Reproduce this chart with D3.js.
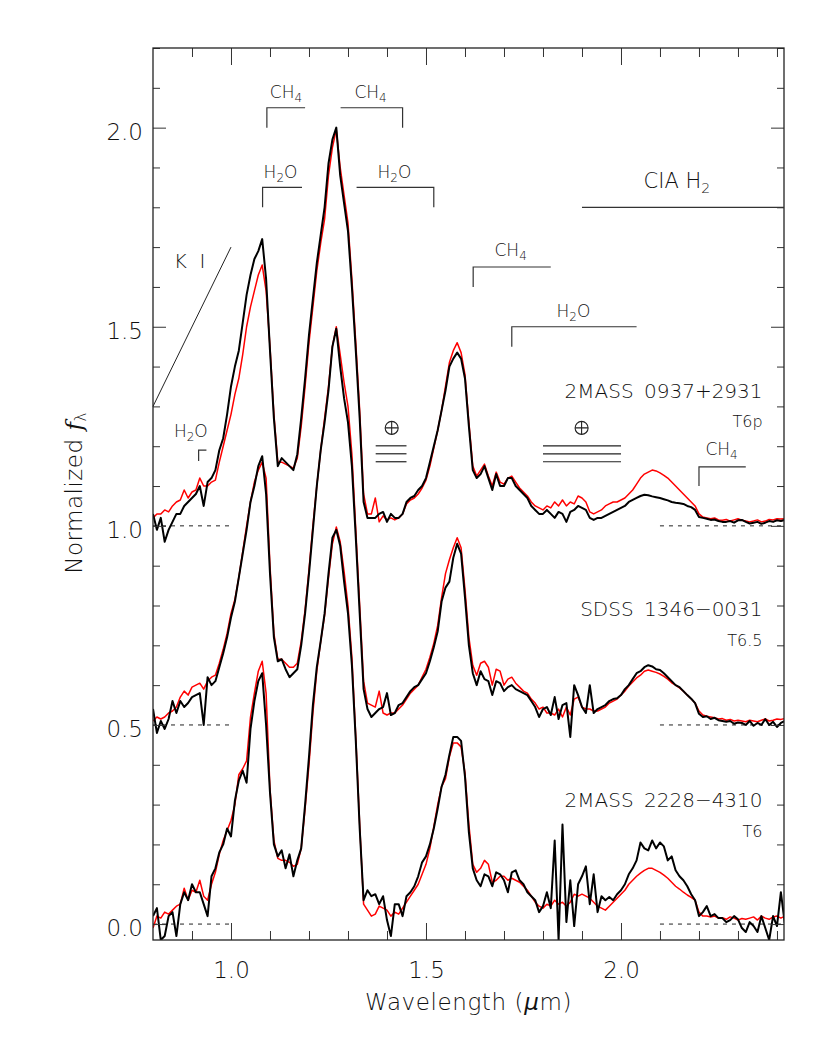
<!DOCTYPE html>
<html>
<head>
<meta charset="utf-8">
<script src="https://cdn.jsdelivr.net/npm/d3@7"></script>
<style>
  body { margin: 0; background: #fff; }
  text { font-family: "DejaVu Sans", sans-serif; font-weight: 200; fill: #111; }
</style>
</head>
<body>
<div class="chart"></div>
<script>
// Wavelength grid (microns), 0.01 step
var wavelength = d3.range(163).map(i => +(0.80 + i * 0.01).toFixed(2));

// 2MASS 0937+2931 (offset +1.0)
var topBlack = [
  1.03, 0.99, 1.02, 0.96, 0.99, 1.01, 1.03, 1.03, 1.05, 1.06,
  1.07, 1.08, 1.10, 1.05, 1.11, 1.12, 1.14, 1.19, 1.22, 1.28,
  1.35, 1.40, 1.44, 1.51, 1.58, 1.63, 1.67, 1.69, 1.72, 1.62,
  1.44, 1.27, 1.15, 1.17, 1.16, 1.15, 1.14, 1.18, 1.27, 1.37,
  1.48, 1.57, 1.66, 1.73, 1.80, 1.91, 1.97, 2.00, 1.88, 1.81,
  1.74, 1.60, 1.44, 1.27, 1.06, 1.02, 1.02, 1.02, 1.03, 1.035,
  1.01, 1.03, 1.02, 1.02, 1.03, 1.06, 1.07, 1.075, 1.09, 1.10,
  1.12, 1.16, 1.20, 1.24, 1.29, 1.34, 1.40, 1.42, 1.435, 1.42,
  1.37, 1.25, 1.14, 1.12, 1.13, 1.15, 1.12, 1.09, 1.13, 1.10,
  1.10, 1.12, 1.12, 1.10, 1.09, 1.08, 1.07, 1.05, 1.04, 1.03,
  1.03, 1.04, 1.03, 1.02, 1.035, 1.03, 1.01, 1.035, 1.04, 1.05,
  1.045, 1.04, 1.02, 1.015, 1.02, 1.02, 1.025, 1.03, 1.035, 1.04,
  1.045, 1.05, 1.06, 1.065, 1.07, 1.075, 1.078, 1.077, 1.074, 1.072,
  1.07, 1.067, 1.064, 1.06, 1.058, 1.057, 1.055, 1.05, 1.047, 1.04,
  1.022, 1.02, 1.018, 1.015, 1.016, 1.012, 1.01, 1.01, 1.012, 1.008,
  1.014, 1.015, 1.01, 1.006, 1.008, 1.01, 1.005, 1.008, 1.012, 1.01,
  1.014, 1.012, 1.015
];
var topRed = [
  1.02, 1.03, 1.03, 1.04, 1.035, 1.05, 1.06, 1.065, 1.09, 1.07,
  1.085, 1.09, 1.12, 1.10, 1.10, 1.11, 1.115, 1.16, 1.20, 1.24,
  1.28, 1.33, 1.37, 1.43, 1.50, 1.55, 1.59, 1.63, 1.655, 1.59,
  1.45, 1.28, 1.16, 1.16, 1.155, 1.15, 1.145, 1.17, 1.25, 1.35,
  1.46, 1.55, 1.64, 1.71, 1.77, 1.88, 1.95, 1.995, 1.90, 1.83,
  1.76, 1.62, 1.46, 1.29, 1.08, 1.03, 1.03, 1.07, 1.01, 1.025,
  1.015, 1.02, 1.015, 1.02, 1.03, 1.055, 1.065, 1.07, 1.08, 1.095,
  1.115, 1.15, 1.195, 1.24, 1.29, 1.35, 1.41, 1.44, 1.46, 1.435,
  1.38, 1.26, 1.15, 1.125, 1.14, 1.155, 1.125, 1.10, 1.135, 1.11,
  1.105, 1.12, 1.125, 1.11, 1.095, 1.085, 1.075, 1.06, 1.05, 1.045,
  1.04, 1.05, 1.045, 1.06, 1.05, 1.065, 1.05, 1.06, 1.055, 1.075,
  1.07, 1.06, 1.035, 1.03, 1.035, 1.04, 1.05, 1.055, 1.06, 1.06,
  1.065, 1.07, 1.08, 1.09, 1.105, 1.12, 1.13, 1.135, 1.14, 1.138,
  1.133, 1.127, 1.12, 1.11, 1.10, 1.09, 1.08, 1.07, 1.06, 1.05,
  1.03, 1.022, 1.02, 1.018, 1.02, 1.015, 1.014, 1.016, 1.012, 1.015,
  1.018, 1.014, 1.012, 1.01, 1.012, 1.015, 1.01, 1.012, 1.016, 1.015,
  1.018, 1.017, 1.018
];

// SDSS 1346-0031 (offset +0.5)
var midBlack = [
  0.54, 0.48, 0.51, 0.49, 0.515, 0.56, 0.53, 0.56, 0.545, 0.555,
  0.57, 0.575, 0.58, 0.50, 0.62, 0.60, 0.61, 0.645, 0.68, 0.72,
  0.77, 0.81, 0.87, 0.93, 0.99, 1.06, 1.10, 1.15, 1.175, 1.08,
  0.88, 0.72, 0.66, 0.665, 0.64, 0.62, 0.63, 0.64, 0.70, 0.78,
  0.88, 0.99, 1.10, 1.19, 1.26, 1.34, 1.45, 1.495, 1.40, 1.32,
  1.26, 1.15, 0.97, 0.78, 0.59, 0.54, 0.52, 0.53, 0.54, 0.545,
  0.58, 0.525, 0.53, 0.55, 0.555, 0.57, 0.585, 0.595, 0.60, 0.615,
  0.63, 0.66, 0.695, 0.735, 0.81, 0.845, 0.86, 0.92, 0.955, 0.93,
  0.82, 0.70, 0.63, 0.60, 0.635, 0.615, 0.61, 0.575, 0.61, 0.605,
  0.585, 0.595, 0.60, 0.59, 0.585, 0.58, 0.575, 0.56, 0.545, 0.52,
  0.54, 0.545, 0.525, 0.57, 0.515, 0.55, 0.555, 0.47, 0.60, 0.575,
  0.545, 0.53, 0.60, 0.53, 0.54, 0.545, 0.55, 0.56, 0.565, 0.567,
  0.575, 0.59, 0.60, 0.615, 0.63, 0.635, 0.645, 0.65, 0.647, 0.64,
  0.638, 0.63, 0.62, 0.61, 0.60, 0.595, 0.585, 0.575, 0.566, 0.555,
  0.528, 0.52, 0.522, 0.515, 0.518, 0.512, 0.51, 0.508, 0.51, 0.503,
  0.506, 0.505, 0.50, 0.51, 0.498, 0.505, 0.50, 0.515, 0.50, 0.508,
  0.495, 0.505, 0.51
];
var midRed = [
  0.51, 0.52, 0.515, 0.52, 0.53, 0.535, 0.545, 0.57, 0.585, 0.575,
  0.595, 0.60, 0.605, 0.59, 0.61, 0.62, 0.625, 0.655, 0.69, 0.73,
  0.78, 0.815, 0.87, 0.935, 1.00, 1.06, 1.11, 1.14, 1.16, 1.12,
  0.90, 0.73, 0.665, 0.665, 0.655, 0.645, 0.645, 0.655, 0.71, 0.79,
  0.89, 1.00, 1.10, 1.19, 1.27, 1.35, 1.45, 1.50, 1.43, 1.36,
  1.30, 1.18, 0.99, 0.80, 0.61, 0.555, 0.55, 0.545, 0.585, 0.53,
  0.525, 0.53, 0.53, 0.54, 0.55, 0.565, 0.58, 0.59, 0.60, 0.62,
  0.64, 0.67, 0.705, 0.75, 0.82, 0.88, 0.915, 0.945, 0.97, 0.945,
  0.84, 0.72, 0.65, 0.625, 0.655, 0.66, 0.645, 0.60, 0.64, 0.635,
  0.60, 0.615, 0.62, 0.605, 0.595, 0.585, 0.58, 0.565, 0.555, 0.54,
  0.545, 0.53, 0.53, 0.525, 0.54, 0.52, 0.545, 0.525, 0.565, 0.57,
  0.545, 0.54, 0.54, 0.535, 0.535, 0.54, 0.545, 0.555, 0.56, 0.565,
  0.575, 0.585, 0.598, 0.608, 0.618, 0.625, 0.635, 0.638, 0.635, 0.632,
  0.628, 0.622, 0.615, 0.606, 0.60, 0.593, 0.585, 0.575, 0.566, 0.555,
  0.535, 0.525, 0.522, 0.52, 0.518, 0.515, 0.516, 0.512, 0.514, 0.51,
  0.512, 0.51, 0.508, 0.512, 0.51, 0.508, 0.512, 0.515, 0.51, 0.512,
  0.515, 0.514, 0.516
];

// 2MASS 2228-4310 (no offset)
var botBlack = [
  0.02, 0.04, -0.04, -0.03, 0.02, 0.03, -0.03, 0.05, 0.08, 0.06,
  0.10, 0.08, 0.08, 0.05, 0.02, 0.12, 0.14, 0.18, 0.20, 0.24,
  0.22, 0.31, 0.36, 0.385, 0.355, 0.49, 0.56, 0.61, 0.63, 0.50,
  0.33, 0.20, 0.17, 0.185, 0.14, 0.175, 0.12, 0.16, 0.19, 0.30,
  0.42, 0.55, 0.645, 0.71, 0.78, 0.88, 0.97, 0.99, 0.95, 0.86,
  0.78, 0.65, 0.46, 0.24, 0.06, 0.085, 0.07, 0.075, 0.05, 0.07,
  0.01, -0.03, 0.05, 0.05, 0.02, 0.07, 0.08, 0.095, 0.12, 0.155,
  0.17, 0.20, 0.24, 0.29, 0.345, 0.375, 0.425, 0.47, 0.47, 0.46,
  0.37, 0.23, 0.14, 0.11, 0.095, 0.125, 0.12, 0.095, 0.13, 0.125,
  0.11, 0.08, 0.13, 0.135, 0.11, 0.10, 0.08, 0.07, 0.06, 0.03,
  0.045, 0.08, 0.04, 0.21, -0.04, 0.25, 0.005, 0.11, -0.005, 0.10,
  0.12, 0.145, 0.05, 0.125, 0.03, 0.07, 0.06, 0.068, 0.06, 0.075,
  0.085, 0.10, 0.125, 0.14, 0.16, 0.205, 0.19, 0.185, 0.21, 0.19,
  0.205, 0.195, 0.16, 0.17, 0.135, 0.12, 0.11, 0.095, 0.075, 0.06,
  0.02, 0.03, 0.045, 0.02, 0.025, 0.015, 0.015, 0.005, 0.01, 0.02,
  0.012, -0.01, -0.02, 0.005, -0.005, -0.02, 0.02, -0.01, -0.04, 0.02,
  -0.005, 0.08, 0.002
];
var botRed = [
  -0.01, 0.02, 0.015, 0.03, 0.025, 0.035, 0.045, 0.05, 0.09, 0.06,
  0.085, 0.08, 0.11, 0.07, 0.06, 0.10, 0.13, 0.175, 0.21, 0.235,
  0.26, 0.30, 0.375, 0.39, 0.41, 0.52, 0.58, 0.635, 0.66, 0.58,
  0.34, 0.21, 0.165, 0.16, 0.16, 0.155, 0.145, 0.15, 0.19, 0.29,
  0.40, 0.53, 0.635, 0.71, 0.775, 0.87, 0.955, 0.997, 0.96, 0.885,
  0.80, 0.67, 0.47, 0.25, 0.05, 0.035, 0.02, 0.025, 0.045, 0.04,
  0.035, 0.02, 0.03, 0.025, 0.04, 0.055, 0.07, 0.085, 0.10, 0.125,
  0.15, 0.19, 0.245, 0.30, 0.345, 0.365, 0.42, 0.455, 0.455, 0.445,
  0.38, 0.25, 0.15, 0.13, 0.14, 0.16, 0.15, 0.105, 0.11, 0.12,
  0.12, 0.11, 0.115, 0.11, 0.105, 0.095, 0.085, 0.07, 0.055, 0.045,
  0.04, 0.05, 0.045, 0.06, 0.05, 0.055, 0.045, 0.055, 0.075, 0.07,
  0.075, 0.07, 0.065, 0.055, 0.045, 0.04, 0.035, 0.045, 0.055, 0.065,
  0.075, 0.085, 0.10, 0.11, 0.12, 0.128, 0.135, 0.14, 0.14, 0.135,
  0.13, 0.123, 0.115, 0.105, 0.095, 0.088, 0.08, 0.073, 0.067, 0.06,
  0.03, 0.02, 0.02, 0.018, 0.02, 0.015, 0.016, 0.012, 0.018, 0.015,
  0.01, 0.014, 0.012, 0.015, 0.018, 0.01, 0.02, 0.015, 0.012, 0.018,
  0.02, 0.015, 0.02
];

// Object names, spectral types and zero levels
var objectNames = ["2MASS 0937+2931", "SDSS 1346\u22120031", "2MASS 2228\u22124310"];
var spectralTypes = ["T6p", "T6.5", "T6"];
var zeroLevels = [1.0, 0.5, 0.0];

// Tick values
var xMajorTicks = [1.0, 1.5, 2.0];
var yMajorTicks = [0.0, 0.5, 1.0, 1.5, 2.0];

// Chart Params
var svgWidth = 830;
var svgHeight = 1038;
var margin = { top: 48, right: 46, bottom: 98, left: 153 };
var width = svgWidth - margin.left - margin.right;
var height = svgHeight - margin.top - margin.bottom;

var svg = d3.select(".chart")
  .append("svg")
  .attr("width", svgWidth)
  .attr("height", svgHeight);

var chartGroup = svg.append("g")
  .attr("transform", `translate(${margin.left}, ${margin.top})`);

var xScale = d3.scaleLinear().domain([0.8, 2.418]).range([0, width]);
var yScale = d3.scaleLinear().domain([-0.04, 2.2]).range([height, 0]);

svg.append("defs").append("clipPath").attr("id", "plotClip")
  .append("rect").attr("width", width).attr("height", height);

// Dashed zero levels at both ends
zeroLevels.forEach(function(z) {
  [[0.8, 1.0], [2.1, 2.418]].forEach(function(seg) {
    chartGroup.append("line")
      .attr("x1", xScale(seg[0])).attr("x2", xScale(seg[1]))
      .attr("y1", yScale(z)).attr("y2", yScale(z))
      .attr("stroke", "#222").attr("stroke-width", 1)
      .attr("stroke-dasharray", "4,5");
  });
});

// Spectra
var line = d3.line()
  .x(d => xScale(d[0]))
  .y(d => yScale(d[1]));

var plotArea = chartGroup.append("g").attr("clip-path", "url(#plotClip)");
var spectra = [
  { values: topRed, color: "#ff0000", w: 1.5 },
  { values: midRed, color: "#ff0000", w: 1.5 },
  { values: botRed, color: "#ff0000", w: 1.5 },
  { values: topBlack, color: "#000", w: 2 },
  { values: midBlack, color: "#000", w: 2 },
  { values: botBlack, color: "#000", w: 2 }
];
spectra.forEach(function(s) {
  plotArea.append("path")
    .datum(wavelength.map((w, i) => [w, s.values[i]]))
    .attr("d", line)
    .attr("fill", "none")
    .attr("stroke", s.color)
    .attr("stroke-width", s.w)
    .attr("stroke-linejoin", "round");
});

// Axes: major + minor ticks, mirrored on top and right
var xMinor = d3.range(9, 25).map(v => v / 10).filter(v => xMajorTicks.indexOf(v) < 0);
var yMinor = d3.range(0, 23).map(v => v / 10).filter(v => yMajorTicks.indexOf(v) < 0);

function styleAxis(g) {
  g.select(".domain").remove();
  g.selectAll(".tick line").attr("stroke", "#333").attr("stroke-width", 1);
  g.selectAll(".tick text")
    .style("font-size", "23px").attr("fill", "#111");
}

chartGroup.append("g")
  .attr("transform", `translate(0, ${height})`)
  .call(d3.axisBottom(xScale).tickValues(xMajorTicks).tickSize(-17).tickPadding(22).tickFormat(d3.format(".1f")))
  .call(styleAxis);
chartGroup.append("g")
  .attr("transform", `translate(0, ${height})`)
  .call(d3.axisBottom(xScale).tickValues(xMinor).tickSize(-9).tickFormat(""))
  .call(styleAxis);
chartGroup.append("g")
  .call(d3.axisTop(xScale).tickValues(xMajorTicks).tickSize(-17).tickFormat(""))
  .call(styleAxis);
chartGroup.append("g")
  .call(d3.axisTop(xScale).tickValues(xMinor).tickSize(-9).tickFormat(""))
  .call(styleAxis);

chartGroup.append("g")
  .call(d3.axisLeft(yScale).tickValues(yMajorTicks).tickSize(-13).tickPadding(10).tickFormat(d3.format(".1f")))
  .call(styleAxis)
  .selectAll(".tick text").attr("dy", "0.5em");
chartGroup.append("g")
  .call(d3.axisLeft(yScale).tickValues(yMinor).tickSize(-7).tickFormat(""))
  .call(styleAxis);
chartGroup.append("g")
  .attr("transform", `translate(${width}, 0)`)
  .call(d3.axisRight(yScale).tickValues(yMajorTicks).tickSize(-13).tickFormat(""))
  .call(styleAxis);
chartGroup.append("g")
  .attr("transform", `translate(${width}, 0)`)
  .call(d3.axisRight(yScale).tickValues(yMinor).tickSize(-7).tickFormat(""))
  .call(styleAxis);

// Frame
chartGroup.append("rect")
  .attr("width", width).attr("height", height)
  .attr("fill", "none").attr("stroke", "#222").attr("stroke-width", 1.3);

// Axis titles
var xTitle = svg.append("text")
  .attr("x", margin.left + width / 2).attr("y", 1010)
  .attr("text-anchor", "middle")
  .style("font-size", "23px").style("letter-spacing", "0.6px");
xTitle.append("tspan").text("Wavelength (");
xTitle.append("tspan").style("font-style", "italic").text("\u03bc");
xTitle.append("tspan").text("m)");

var yTitle = svg.append("text")
  .attr("transform", "translate(82, 493) rotate(-90)")
  .attr("text-anchor", "middle")
  .style("font-size", "23px").style("letter-spacing", "0.5px");
yTitle.append("tspan").text("Normalized ");
yTitle.append("tspan").style("font-style", "italic").style("font-family", "'DejaVu Serif', serif").text("f");
yTitle.append("tspan").attr("dy", 4).style("font-size", "15px").text("\u03bb");

// Band brackets
var brackets = [
  { lo: 1.092, hi: 1.19, top: 2.05, foot: 2.0, side: "left" },
  { lo: 1.281, hi: 1.44, top: 2.05, foot: 2.0, side: "right" },
  { lo: 1.081, hi: 1.182, top: 1.85, foot: 1.80, side: "left" },
  { lo: 1.322, hi: 1.52, top: 1.85, foot: 1.80, side: "right" },
  { lo: 1.621, hi: 1.82, top: 1.65, foot: 1.60, side: "left" },
  { lo: 1.72, hi: 2.04, top: 1.50, foot: 1.45, side: "left" },
  { lo: 2.20, hi: 2.32, top: 1.148, foot: 1.10, side: "left" },
  { lo: 0.917, hi: 0.937, top: 1.19, foot: 1.163, side: "left" }
];
brackets.forEach(function(b) {
  var p = d3.path();
  if (b.side === "left") {
    p.moveTo(xScale(b.lo), yScale(b.foot));
    p.lineTo(xScale(b.lo), yScale(b.top));
    p.lineTo(xScale(b.hi), yScale(b.top));
  } else {
    p.moveTo(xScale(b.lo), yScale(b.top));
    p.lineTo(xScale(b.hi), yScale(b.top));
    p.lineTo(xScale(b.hi), yScale(b.foot));
  }
  chartGroup.append("path").attr("d", p.toString())
    .attr("fill", "none").attr("stroke", "#333").attr("stroke-width", 1.2);
});

// CIA H2 line and K I line
chartGroup.append("line")
  .attr("x1", xScale(1.90)).attr("x2", xScale(2.418))
  .attr("y1", yScale(1.80)).attr("y2", yScale(1.80))
  .attr("stroke", "#333").attr("stroke-width", 1.2);
chartGroup.append("line")
  .attr("x1", xScale(0.80)).attr("x2", xScale(1.00))
  .attr("y1", yScale(1.30)).attr("y2", yScale(1.70))
  .attr("stroke", "#222").attr("stroke-width", 1);

// Telluric bands
var telluric = [
  { lo: 1.371, hi: 1.45, mid: 1.412 },
  { lo: 1.80, hi: 2.00, mid: 1.899 }
];
telluric.forEach(function(t) {
  [1.201, 1.181, 1.161].forEach(function(v) {
    chartGroup.append("line")
      .attr("x1", xScale(t.lo)).attr("x2", xScale(t.hi))
      .attr("y1", yScale(v)).attr("y2", yScale(v))
      .attr("stroke", "#222").attr("stroke-width", 1.2);
  });
  var cx = xScale(t.mid), cy = yScale(1.246), r = 6.5;
  chartGroup.append("circle").attr("cx", cx).attr("cy", cy).attr("r", r)
    .attr("fill", "none").attr("stroke", "#222").attr("stroke-width", 1.1);
  chartGroup.append("path")
    .attr("d", `M${cx - r},${cy}H${cx + r}M${cx},${cy - r}V${cy + r}`)
    .attr("stroke", "#222").attr("stroke-width", 1.1);
});

// Molecule labels
var molLabels = [
  { x: 1.141, y: 2.075, base: "CH", sub: "4", tail: "", size: 17 },
  { x: 1.358, y: 2.075, base: "CH", sub: "4", tail: "", size: 17 },
  { x: 1.127, y: 1.874, base: "H", sub: "2", tail: "O", size: 17 },
  { x: 1.419, y: 1.874, base: "H", sub: "2", tail: "O", size: 17 },
  { x: 1.717, y: 1.678, base: "CH", sub: "4", tail: "", size: 17 },
  { x: 1.878, y: 1.525, base: "H", sub: "2", tail: "O", size: 17 },
  { x: 2.258, y: 1.178, base: "CH", sub: "4", tail: "", size: 17 },
  { x: 0.897, y: 1.224, base: "H", sub: "2", tail: "O", size: 17 }
];
molLabels.forEach(function(m) {
  var t = chartGroup.append("text")
    .attr("x", xScale(m.x)).attr("y", yScale(m.y))
    .attr("text-anchor", "middle")
    .style("font-size", m.size + "px");
  t.append("tspan").text(m.base);
  t.append("tspan").attr("dy", 4).style("font-size", "12px").text(m.sub);
  if (m.tail) t.append("tspan").attr("dy", -4).text(m.tail);
});

var cia = chartGroup.append("text")
  .attr("x", xScale(2.058)).attr("y", yScale(1.849))
  .style("font-size", "21px");
cia.append("tspan").text("CIA  H");
cia.append("tspan").attr("dy", 5).style("font-size", "14px").text("2");

chartGroup.append("text")
  .attr("x", xScale(0.853)).attr("y", yScale(1.648))
  .style("font-size", "20px")
  .attr("xml:space", "preserve")
  .text("K  I");

// Object labels
var nameLevels = [1.322, 0.774, 0.294];
objectNames.forEach(function(name, i) {
  chartGroup.append("text")
    .attr("x", xScale(2.363)).attr("y", yScale(nameLevels[i]))
    .attr("text-anchor", "end")
    .style("font-size", "20px").style("word-spacing", "4px")
    .text(name);
  chartGroup.append("text")
    .attr("x", xScale(2.363)).attr("y", yScale(nameLevels[i] - 0.075))
    .attr("text-anchor", "end")
    .style("font-size", "16px")
    .text(spectralTypes[i]);
});
</script>
</body>
</html>
